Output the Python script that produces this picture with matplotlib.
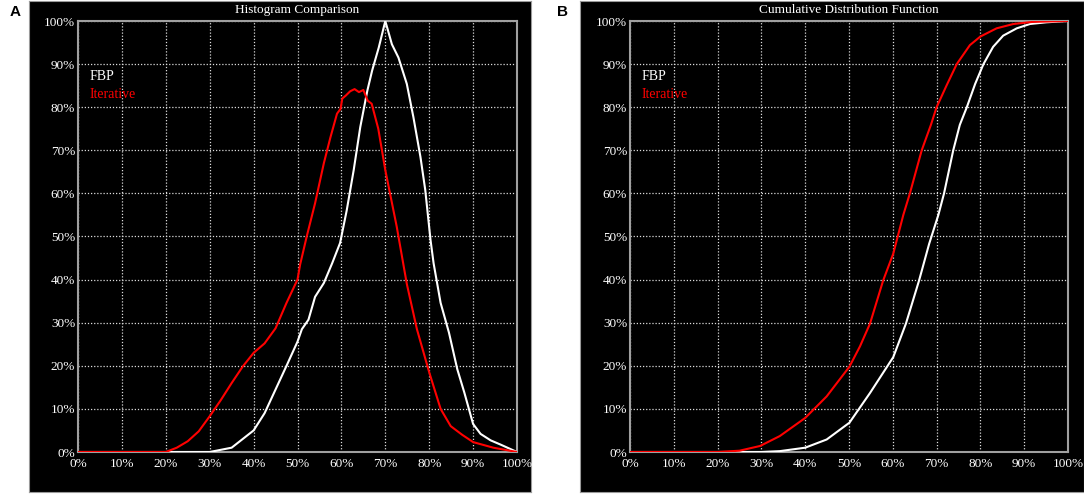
"""Histogram and CDF comparison of FBP vs iterative reconstruction."""

import matplotlib
matplotlib.use("Agg")
import matplotlib.pyplot as plt

# Histogram comparison (x: %, y: % of max)
hist_fbp_x = [0, 30, 35, 40, 42.5, 45, 47.5, 50, 51, 52.5, 54, 56, 57.9, 59.7, 61.2, 62.8,
              64.3, 65.9, 67, 68.5, 70, 71.5, 73, 74.9, 76.4, 78, 79.1, 80.3, 81, 82.6,
              84.5, 86.4, 88, 90, 91.7, 94, 96.3, 100]
hist_fbp_y = [0, 0, 1, 5, 9, 14.5, 20, 25.6, 28.5, 30.7, 36, 39.2, 43.8, 48.5, 56, 65.4,
              75.4, 83.8, 88.5, 93.8, 100, 94.6, 91.5, 85.4, 77.7, 68.5, 60.8, 49.2, 43.8, 34.6,
              27.7, 19.2, 13.8, 6.5, 4.2, 2.7, 1.7, 0]

hist_it_x = [0, 20, 22.5, 25, 27.5, 30, 32.5, 35, 37.5, 40, 42.5, 45, 47.5, 50, 50.6, 52.1,
             54, 56, 57.5, 59, 59.8, 60.2, 61, 62, 63, 64, 65, 66, 66.9, 68.4, 70, 72.6,
             74.9, 77.2, 80, 82.6, 84.9, 87.5, 90, 94.6, 100]
hist_it_y = [0, 0, 1, 2.5, 4.8, 8.3, 12, 16, 19.8, 23, 25.2, 28.7, 34.6, 40, 43.5, 50,
             57.7, 67, 73, 78.5, 79.6, 82, 82.7, 83.7, 84.2, 83.5, 84, 81.5, 80.8, 75, 65.4, 52.3,
             39, 28.5, 18.5, 10, 6, 4, 2.3, 1, 0]

# Cumulative distribution function
cdf_fbp_x = [0, 30, 34.2, 40, 44.9, 50.1, 54.8, 60.1, 63, 66, 68.3, 70.4, 71.7, 73.8,
             75.3, 76.9, 78.8, 80.7, 82.9, 85.2, 88.3, 91.3, 95.1, 100]
cdf_fbp_y = [0, 0, 0.2, 1, 2.9, 6.8, 13.7, 22, 29.8, 39.8, 48.3, 55, 60, 70,
             75.9, 80, 85.4, 90, 94, 96.6, 98.3, 99.3, 99.7, 100]

cdf_it_x = [0, 20, 25, 29.7, 34.2, 40, 44.9, 50.1, 52.5, 54.8, 57.8, 60.1, 62.4, 63.9,
            66.6, 68.7, 70, 72.3, 74.6, 77.6, 80, 83.7, 87.5, 92, 100]
cdf_it_y = [0, 0, 0.3, 1.4, 3.7, 7.9, 12.9, 19.8, 24.5, 29.8, 39.8, 46, 55, 60,
            70, 75.9, 80, 85.1, 90, 94.4, 96.4, 98.3, 99.3, 99.8, 100]

ticks = list(range(0, 101, 10))
tick_labels = [f"{t}%" for t in ticks]

SERIF = "Liberation Serif"
W, H = 1084, 494


def fx(px):
    return px / W


def fy(py):
    return 1 - py / H


def panel(fig, box, axes_box, title, letter, letter_x, series):
    # black backdrop
    bg = fig.add_axes([fx(box[0]), fy(box[3]), fx(box[2] - box[0]), (box[3] - box[1]) / H])
    bg.set_facecolor("black")
    bg.set_xticks([])
    bg.set_yticks([])
    for s in bg.spines.values():
        s.set_color("#9a9a9a")
        s.set_linewidth(0.8)

    x0, y0, x1, y1 = axes_box
    ax = fig.add_axes([fx(x0), fy(y1), fx(x1 - x0), (y1 - y0) / H])
    ax.set_facecolor("black")
    for xs, ys, c in series:
        ax.plot(xs, ys, color=c, linewidth=1.5, zorder=3)
    ax.set_xlim(0, 100)
    ax.set_ylim(0, 100)
    ax.set_xticks(ticks)
    ax.set_yticks(ticks)
    ax.set_xticklabels(tick_labels, fontfamily=SERIF, fontsize=9.5, color="white")
    ax.set_yticklabels(tick_labels, fontfamily=SERIF, fontsize=9.5, color="white")
    ax.tick_params(length=0, pad=2)
    ax.tick_params(axis="x", pad=4)
    ax.grid(True, color="#dcdcdc", linestyle=(0, (1, 1.5)), linewidth=0.9, zorder=1)
    for s in ax.spines.values():
        s.set_color("#a0a0a0")
        s.set_linewidth(1.5)

    ax.text(0.5, 1 + 11 / (y1 - y0), title, transform=ax.transAxes, ha="center",
            va="center", color="white", fontfamily=SERIF, fontsize=9.5)
    ax.text(12 / (x1 - x0), (y1 - 77) / (y1 - y0), "FBP", transform=ax.transAxes,
            ha="left", va="center", color="white", fontfamily=SERIF, fontsize=10)
    ax.text(12 / (x1 - x0), (y1 - 95) / (y1 - y0), "Iterative", transform=ax.transAxes,
            ha="left", va="center", color="#ff0000", fontfamily=SERIF, fontsize=10)

    fig.text(fx(letter_x), fy(12), letter, ha="center", va="center", fontsize=11,
             fontweight="bold", fontfamily="Liberation Sans", color="black")
    return ax


def main() -> None:
    fig = plt.figure(figsize=(W / 100, H / 100), dpi=100)
    fig.patch.set_facecolor("white")

    panel(fig, (29, 1, 531, 492), (78, 21, 517, 452), "Histogram Comparison", "A", 15,
          [(hist_fbp_x, hist_fbp_y, "white"), (hist_it_x, hist_it_y, "#ff0000")])
    panel(fig, (580, 1, 1084, 492), (630, 21, 1068, 452), "Cumulative Distribution Function",
          "B", 563,
          [(cdf_fbp_x, cdf_fbp_y, "white"), (cdf_it_x, cdf_it_y, "#ff0000")])

    fig.savefig("out.png", dpi=100, facecolor="white")
    plt.close(fig)


if __name__ == "__main__":
    main()
